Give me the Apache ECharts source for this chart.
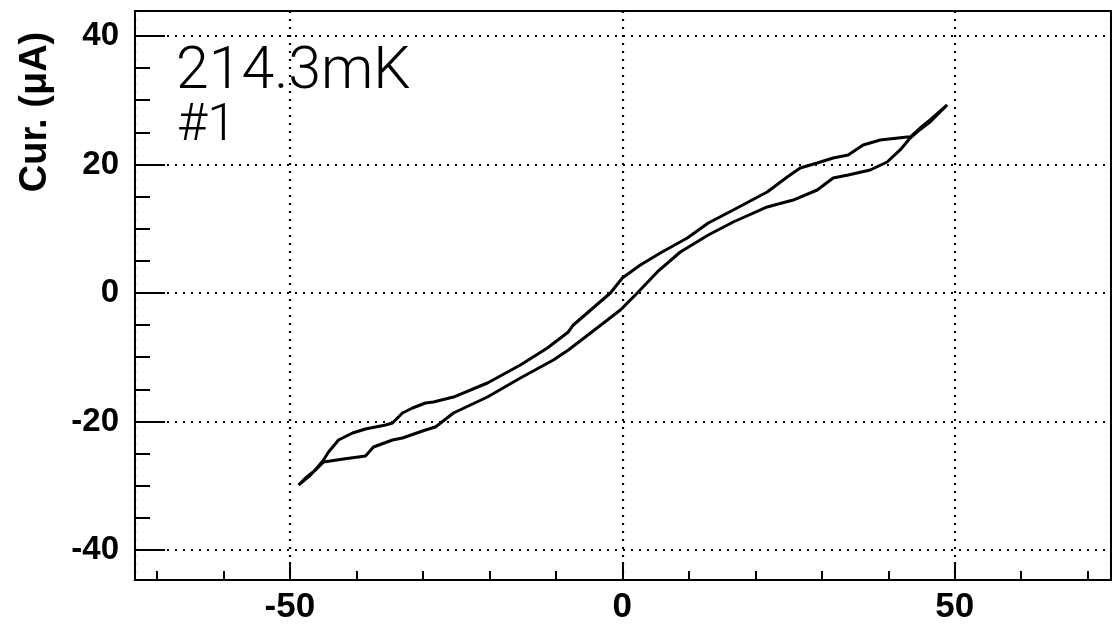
<!DOCTYPE html>
<html>
<head>
<meta charset="utf-8">
<script src="https://cdn.jsdelivr.net/npm/echarts@6/dist/echarts.min.js"></script>
<style>
html,body{margin:0;padding:0;background:#fff;}
#chart{width:1112px;height:627px;}
</style>
</head>
<body>
<div id="chart"></div>
<script>
// Upper branch of the hysteresis loop (left tip -> right tip)
var branchUpper = [
  [-48.70,-29.88],[-46.90,-28.33],[-45.69,-26.93],[-44.94,-25.99],[-44.19,-24.75],
  [-42.69,-22.88],[-40.58,-21.79],[-38.63,-21.17],[-35.62,-20.54],[-34.57,-20.23],
  [-33.07,-18.68],[-31.56,-17.90],[-29.61,-17.12],[-28.41,-16.96],[-25.40,-16.19],
  [-20.29,-14.01],[-15.33,-11.21],[-11.27,-8.56],[-8.12,-6.07],[-7.37,-4.98],
  [-1.80,0.00],[0.00,2.33],[2.71,4.36],[5.71,6.23],[9.77,8.56],[12.93,10.89],
  [16.68,12.92],[21.79,15.72],[24.80,18.05],[26.75,19.46],[29.31,20.23],
  [31.71,21.01],[33.97,21.48],[36.22,23.04],[38.78,23.81],[42.84,24.28],
  [43.29,24.28],[44.79,25.68],[46.29,26.93],[48.85,29.26]
];
// Lower branch of the hysteresis loop (right tip -> left tip)
var branchLower = [
  [48.85,29.11],[46.29,26.61],[44.49,25.21],[43.29,24.12],[41.78,22.26],
  [39.83,20.39],[37.28,19.14],[33.97,18.37],[31.71,17.90],[29.31,16.03],
  [25.70,14.47],[21.79,13.39],[16.68,11.05],[12.93,9.03],[8.72,6.38],
  [5.26,3.27],[2.25,0.00],[-0.30,-2.65],[-3.61,-5.29],[-8.12,-8.87],
  [-10.37,-10.43],[-15.33,-13.23],[-20.29,-16.19],[-25.40,-18.68],[-28.11,-20.86],
  [-29.61,-21.32],[-33.07,-22.57],[-34.57,-22.88],[-37.43,-23.97],[-38.63,-25.37],
  [-41.93,-25.84],[-44.94,-26.30],[-46.14,-27.55],[-47.65,-28.79],[-48.70,-29.88]
];
var xMinorTicks = [-70,-60,-40,-30,-20,-10,10,20,30,40,60,70];
var yMinorTicks = [-35,-30,-25,-15,-10,-5,5,10,15,25,30,35];
var xRange = [-73.3, 73.5];
var yRange = [-44.67, 43.89];
var yTitle = 'Cur. (\u03bcA)';
var noteTemp = '214.3mK';
var noteRun = '#1';

var loop = branchUpper.concat(branchLower);

var chart = echarts.init(document.getElementById('chart'), null, {renderer:'canvas'});
var dotted = {color:'#000', width:2.2, type:[2,6]};
var labelFont = {color:'#000', fontFamily:'Liberation Sans, Arial, sans-serif', fontWeight:'bold'};

var option = {
  animation:false,
  backgroundColor:'#fff',
  grid:{left:135, top:11, right:1, bottom:47, show:true, borderColor:'#000', borderWidth:2, backgroundColor:'transparent'},
  xAxis:[{
    type:'value', min:xRange[0], max:xRange[1], splitNumber:3, position:'bottom',
    axisLine:{show:true, onZero:false, lineStyle:{color:'#000', width:2}},
    axisTick:{show:true, inside:true, length:18, lineStyle:{color:'#000', width:2}},
    axisLabel:Object.assign({fontSize:35, margin:10, showMinLabel:false, showMaxLabel:false}, labelFont),
    splitLine:{show:true, lineStyle:dotted}
  },{
    type:'value', min:xRange[0], max:xRange[1], position:'bottom', offset:0,
    axisLine:{show:false, onZero:false},
    axisTick:{show:true, inside:true, length:9, customValues:xMinorTicks, lineStyle:{color:'#000', width:2}},
    axisLabel:{show:false},
    splitLine:{show:false}
  }],
  yAxis:[{
    type:'value', min:yRange[0], max:yRange[1], splitNumber:4, position:'left',
    axisLine:{show:true, onZero:false, lineStyle:{color:'#000', width:2}},
    axisTick:{show:true, inside:true, length:30, lineStyle:{color:'#000', width:2}},
    axisLabel:Object.assign({fontSize:33, margin:16, showMinLabel:false, showMaxLabel:false}, labelFont),
    splitLine:{show:true, lineStyle:dotted}
  },{
    type:'value', min:yRange[0], max:yRange[1], position:'left', offset:0,
    axisLine:{show:false, onZero:false},
    axisTick:{show:true, inside:true, length:15, customValues:yMinorTicks, lineStyle:{color:'#000', width:2}},
    axisLabel:{show:false},
    splitLine:{show:false}
  }],
  graphic:[
    {type:'text', x:36, y:112, rotation:Math.PI/2,
     style:{text:yTitle, textAlign:'center', textVerticalAlign:'middle', fill:'#000',
            font:'bold 38px "Liberation Sans", Arial, sans-serif'}},
    {type:'text', x:176, y:73,
     style:{text:noteTemp, textAlign:'left', textVerticalAlign:'middle', fill:'#000',
            font:'300 59px Roboto, "Liberation Sans", sans-serif'}},
    {type:'text', x:177, y:127,
     style:{text:noteRun, textAlign:'left', textVerticalAlign:'middle', fill:'#000',
            font:'300 52px Roboto, "Liberation Sans", sans-serif'}}
  ],
  series:[{
    type:'line', xAxisIndex:0, yAxisIndex:0, data:loop,
    showSymbol:false, symbol:'none', smooth:false,
    lineStyle:{color:'#000', width:3}
  }]
};
chart.setOption(option);
</script>
</body>
</html>
